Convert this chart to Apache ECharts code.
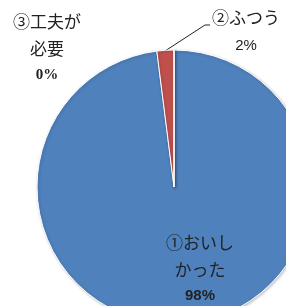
<!DOCTYPE html>
<html>
<head>
<meta charset="utf-8">
<script src="https://cdn.jsdelivr.net/npm/echarts@6/dist/echarts.min.js"></script>
<style>
  html, body { margin: 0; padding: 0; background: #fff; }
  #main { width: 286px; height: 306px; }
</style>
</head>
<body>
<div id="main"></div>
<script>
// Answers and their share (percent)
const names = ['①おいし\nかった', '②ふつう', '③工夫が\n必要'];
const values = [98, 2, 0];
const colors = ['#4F81BD', '#C0504D', '#9BBB59'];

// Where each label sits (label centre)
const labelSpots = [
  { x: 200, y: 269 },
  { x: 246, y: 32 },
  { x: 47, y: 48 }
];

const numStyles = ['numBold', 'numPlain', 'numSerif'];

const makeLabel = (i) => {
  const lines = names[i].split('\n').map((t) => `{jp|${t}}`);
  return lines.join('\n') + `\n{${numStyles[i]}|${values[i]}%}`;
};

const seriesData = names.map((n, i) => ({
  name: n,
  value: values[i],
  itemStyle: { color: colors[i] },
  label: {
    position: i === 0 ? 'inside' : 'outside',
    formatter: makeLabel(i)
  },
  labelLine: { show: i === 1 }
}));

const chart = echarts.init(document.getElementById('main'));
chart.setOption({
  animation: false,
  series: [{
    type: 'pie',
    center: [174, 187],
    radius: 137,
    startAngle: 90,
    clockwise: true,
    data: seriesData,
    itemStyle: {
      borderColor: '#fff',
      borderWidth: 1,
      shadowBlur: 3,
      shadowColor: 'rgba(0,0,0,0.25)',
      shadowOffsetX: 1,
      shadowOffsetY: 1
    },
    label: {
      show: true,
      color: '#222',
      align: 'center',
      overflow: 'none',
      width: 100,
      rich: {
        jp: { fontFamily: 'Noto Sans CJK JP', fontSize: 17, lineHeight: 27, color: '#222' },
        numBold: { fontFamily: 'Liberation Sans', fontWeight: 'bold', fontSize: 15, lineHeight: 25, color: '#222' },
        numPlain: { fontFamily: 'Liberation Sans', fontSize: 15, lineHeight: 28, color: '#222' },
        numSerif: { fontFamily: 'Liberation Serif', fontWeight: 'bold', fontSize: 15, lineHeight: 25, color: '#222' }
      }
    },
    labelLine: {
      lineStyle: { color: '#222', width: 1 }
    },
    labelLayout: (params) => {
      const spot = labelSpots[params.dataIndex];
      const out = { x: spot.x, y: spot.y, align: 'center', verticalAlign: 'middle' };
      if (params.dataIndex === 1) {
        out.labelLinePoints = [[165, 51], [205, 25], [210, 25]];
      }
      return out;
    }
  }]
});
</script>
</body>
</html>
